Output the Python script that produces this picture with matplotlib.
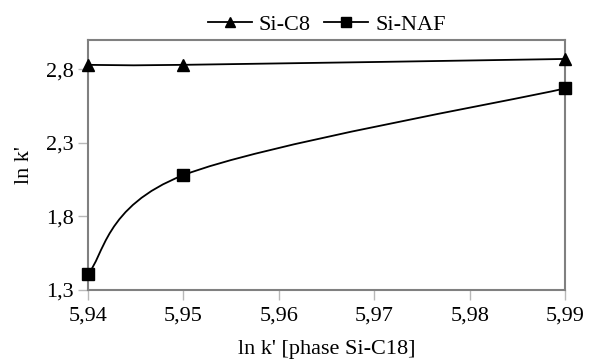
import matplotlib
matplotlib.use('Agg')
import matplotlib.pyplot as plt
from matplotlib.path import Path
from matplotlib.patches import PathPatch
from matplotlib.ticker import FuncFormatter

# data
x_c18 = [5.94, 5.95, 5.99]
y_c8 = [2.83, 2.83, 2.87]
y_naf = [1.41, 2.08, 2.67]

x_ticks = [5.94, 5.95, 5.96, 5.97, 5.98, 5.99]
y_ticks = [1.3, 1.8, 2.3, 2.8]


def smooth_path(xs, ys):
    # Excel-like smoothed line: Catmull-Rom segments as cubic Bezier curves
    pts = list(zip(xs, ys))
    verts = [pts[0]]
    codes = [Path.MOVETO]
    n = len(pts)
    for i in range(n - 1):
        p0 = pts[i - 1] if i > 0 else pts[i]
        p1 = pts[i]
        p2 = pts[i + 1]
        p3 = pts[i + 2] if i + 2 < n else pts[i + 1]
        c1 = (p1[0] + (p2[0] - p0[0]) / 6, p1[1] + (p2[1] - p0[1]) / 6)
        c2 = (p2[0] - (p3[0] - p1[0]) / 6, p2[1] - (p3[1] - p1[1]) / 6)
        verts += [c1, c2, p2]
        codes += [Path.CURVE4] * 3
    return Path(verts, codes)


plt.rcParams['font.family'] = ['Liberation Serif', 'DejaVu Serif']
plt.rcParams['font.size'] = 16

fig = plt.figure(figsize=(5.9, 3.62), dpi=100)
ax = fig.add_axes([0.149, 0.199, 0.809, 0.691])

for ys, mk, lab in [(y_c8, '^', 'Si-C8'), (y_naf, 's', 'Si-NAF')]:
    ax.add_patch(PathPatch(smooth_path(x_c18, ys), facecolor='none',
                           edgecolor='black', lw=1.3, clip_on=False))
    ax.plot(x_c18, ys, linestyle='none', marker=mk, color='black',
            markersize=8, clip_on=False, zorder=3)
    # legend handle
    ax.plot([], [], color='black', lw=1.3, marker=mk, markersize=7, label=lab)

ax.set_xlim(5.94, 5.99)
ax.set_ylim(1.3, 3.0)
ax.set_xticks(x_ticks)
ax.set_yticks(y_ticks)
ax.xaxis.set_major_formatter(FuncFormatter(lambda v, p: ('%.2f' % v).replace('.', ',')))
ax.yaxis.set_major_formatter(FuncFormatter(lambda v, p: ('%.1f' % v).replace('.', ',')))

for s in ax.spines.values():
    s.set_color('#808080')
    s.set_linewidth(1.5)
ax.tick_params(direction='out', length=7, width=1, color='#b8b8b8', pad=3)
ax.tick_params(axis='x', pad=5)

ax.set_xlabel("ln k' [phase Si-C18]", labelpad=10)
ax.set_ylabel("ln k'", labelpad=9)

ax.legend(loc='lower center', bbox_to_anchor=(0.5, 0.985), ncol=2, frameon=False,
          handlelength=2.0, handletextpad=0.3, columnspacing=0.6,
          borderaxespad=0)

fig.savefig('out.png', dpi=100)
